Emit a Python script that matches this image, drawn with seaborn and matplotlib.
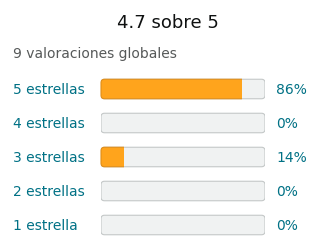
import matplotlib
matplotlib.use("Agg")
import matplotlib.pyplot as plt
import seaborn as sns
import pandas as pd
from matplotlib.patches import FancyBboxPatch, Rectangle
from matplotlib.transforms import blended_transform_factory

sns.set_theme(style="white")
plt.rcParams['font.family'] = ['DejaVu Sans']

categories = ["5 estrellas", "4 estrellas", "3 estrellas", "2 estrellas", "1 estrella"]
percents = [86, 0, 14, 0, 0]
pct_labels = ["86%", "0%", "14%", "0%", "0%"]
title = "4.7 sobre 5"
subtitle = "9 valoraciones globales"

df = pd.DataFrame({"cat": categories, "pct": percents, "full": [100] * len(categories)})

W, H = 320, 252
fig = plt.figure(figsize=(W / 100, H / 100), dpi=100)
fig.patch.set_facecolor("white")

left, right = 101, 265
top_c, bot_c, sp = 89, 225, 34
ax_top = top_c - sp / 2
ax_bot = bot_c + sp / 2
ax = fig.add_axes([left / W, 1 - ax_bot / H, (right - left) / W, (ax_bot - ax_top) / H])

bw = 19.5 / sp
sns.barplot(data=df, x="full", y="cat", orient="h", color="#F0F2F2", width=bw, ax=ax)
n_track = len(ax.patches)
sns.barplot(data=df, x="pct", y="cat", orient="h", color="#FFA41C", width=bw, ax=ax)

ax.set_xlim(0, 100)
ax.set_ylim(len(categories) - 0.5, -0.5)
ax.axis("off")

px_per_x = (right - left) / 100
px_per_y = sp
r_px = 3.5
rs = r_px / px_per_x
aspect = (r_px / px_per_y) / rs
patches = list(ax.patches)
for i, p in enumerate(patches):
    x0, y0 = p.get_x(), p.get_y()
    w, h = p.get_width(), p.get_height()
    p.remove()
    if w <= 0:
        continue
    if i < n_track:
        fb = FancyBboxPatch((x0, y0), w, h,
                            boxstyle=f"round,pad=0,rounding_size={rs}",
                            mutation_aspect=aspect,
                            facecolor="#F0F2F2", edgecolor="#C4C8C8",
                            linewidth=0.8, zorder=2)
        ax.add_patch(fb)
    else:
        # rounded on the left, square on the right
        fb = FancyBboxPatch((x0, y0), w + 2 * rs, h,
                            boxstyle=f"round,pad=0,rounding_size={rs}",
                            mutation_aspect=aspect,
                            facecolor="#FFA41C", edgecolor="#E08E1A",
                            linewidth=0.8, zorder=3)
        ax.add_patch(fb)
        clip = Rectangle((x0 - 1, y0 - 0.1), w + 1, h + 0.2, transform=ax.transData)
        fb.set_clip_path(clip)

tr = blended_transform_factory(fig.transFigure, ax.transData)
for i, (c, pl) in enumerate(zip(categories, pct_labels)):
    ax.text(13 / W, i, c, transform=tr, ha="left", va="center_baseline",
            fontsize=10, color="#007185")
    ax.text(276 / W, i, pl, transform=tr, ha="left", va="center_baseline",
            fontsize=10, color="#007185")

fig.text(168 / W, 1 - 28 / H, title, ha="center", va="baseline", fontsize=13, color="#0F1111")
fig.text(13 / W, 1 - 58 / H, subtitle, ha="left", va="baseline", fontsize=10, color="#565959")

fig.savefig("out.png", dpi=100, facecolor="white")
